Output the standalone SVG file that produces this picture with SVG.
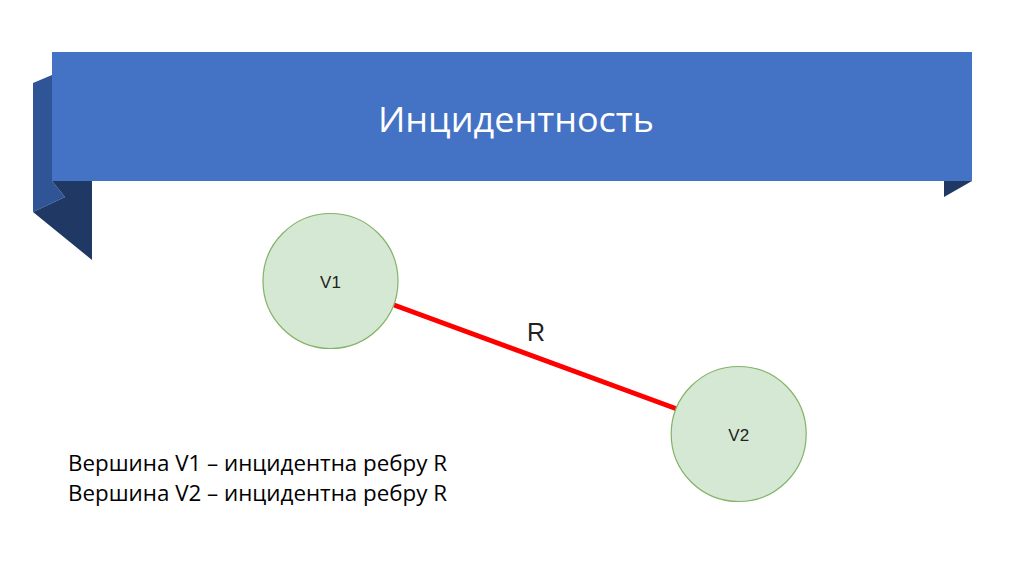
<svg xmlns="http://www.w3.org/2000/svg" width="1024" height="574" viewBox="0 0 1024 574">
<style>
.node circle{fill:#d5e8d4;stroke:#82b366;stroke-width:1.2}
.node text{font-family:"Liberation Sans",Arial,sans-serif;font-size:17px;fill:#222;text-anchor:middle}
.body{font-family:"Open Sans","Liberation Sans",sans-serif;font-size:22px;fill:#000}
</style>
<rect width="1024" height="574" fill="#fff"/>
<g id="banner">
<polygon points="33,83 52,75 52,181 65,197 33,212" fill="#2f5597"/>
<polygon points="52,181 92,181 92,260 33,212 65,197" fill="#203864"/>
<polygon points="944,181 972,181 944,197" fill="#203864"/>
<rect x="52" y="52" width="920" height="129" fill="#4472c4"/>
<text x="516" y="132" font-family="Open Sans,Liberation Sans,sans-serif" font-size="35" fill="#fff" text-anchor="middle" textLength="276" lengthAdjust="spacingAndGlyphs">Инцидентность</text>
</g>
<g id="connectors">
<line x1="394" y1="305" x2="677" y2="409" stroke="#ff0000" stroke-width="5"/>
<text x="536" y="341" font-family="Liberation Sans,Arial,sans-serif" font-size="25" fill="#222" text-anchor="middle">R</text>
</g>
<g id="v1" class="node">
<circle cx="330.5" cy="281" r="67.5"/>
<text x="330.5" y="288">V1</text>
</g>
<g id="v2" class="node">
<circle cx="738.7" cy="434" r="67.5"/>
<text x="738.7" y="441">V2</text>
</g>
<g id="caption">
<text class="body" x="68" y="471" textLength="379" lengthAdjust="spacingAndGlyphs">Вершина V1 – инцидентна ребру R</text>
<text class="body" x="68" y="501" textLength="379" lengthAdjust="spacingAndGlyphs">Вершина V2 – инцидентна ребру R</text>
</g>
</svg>
